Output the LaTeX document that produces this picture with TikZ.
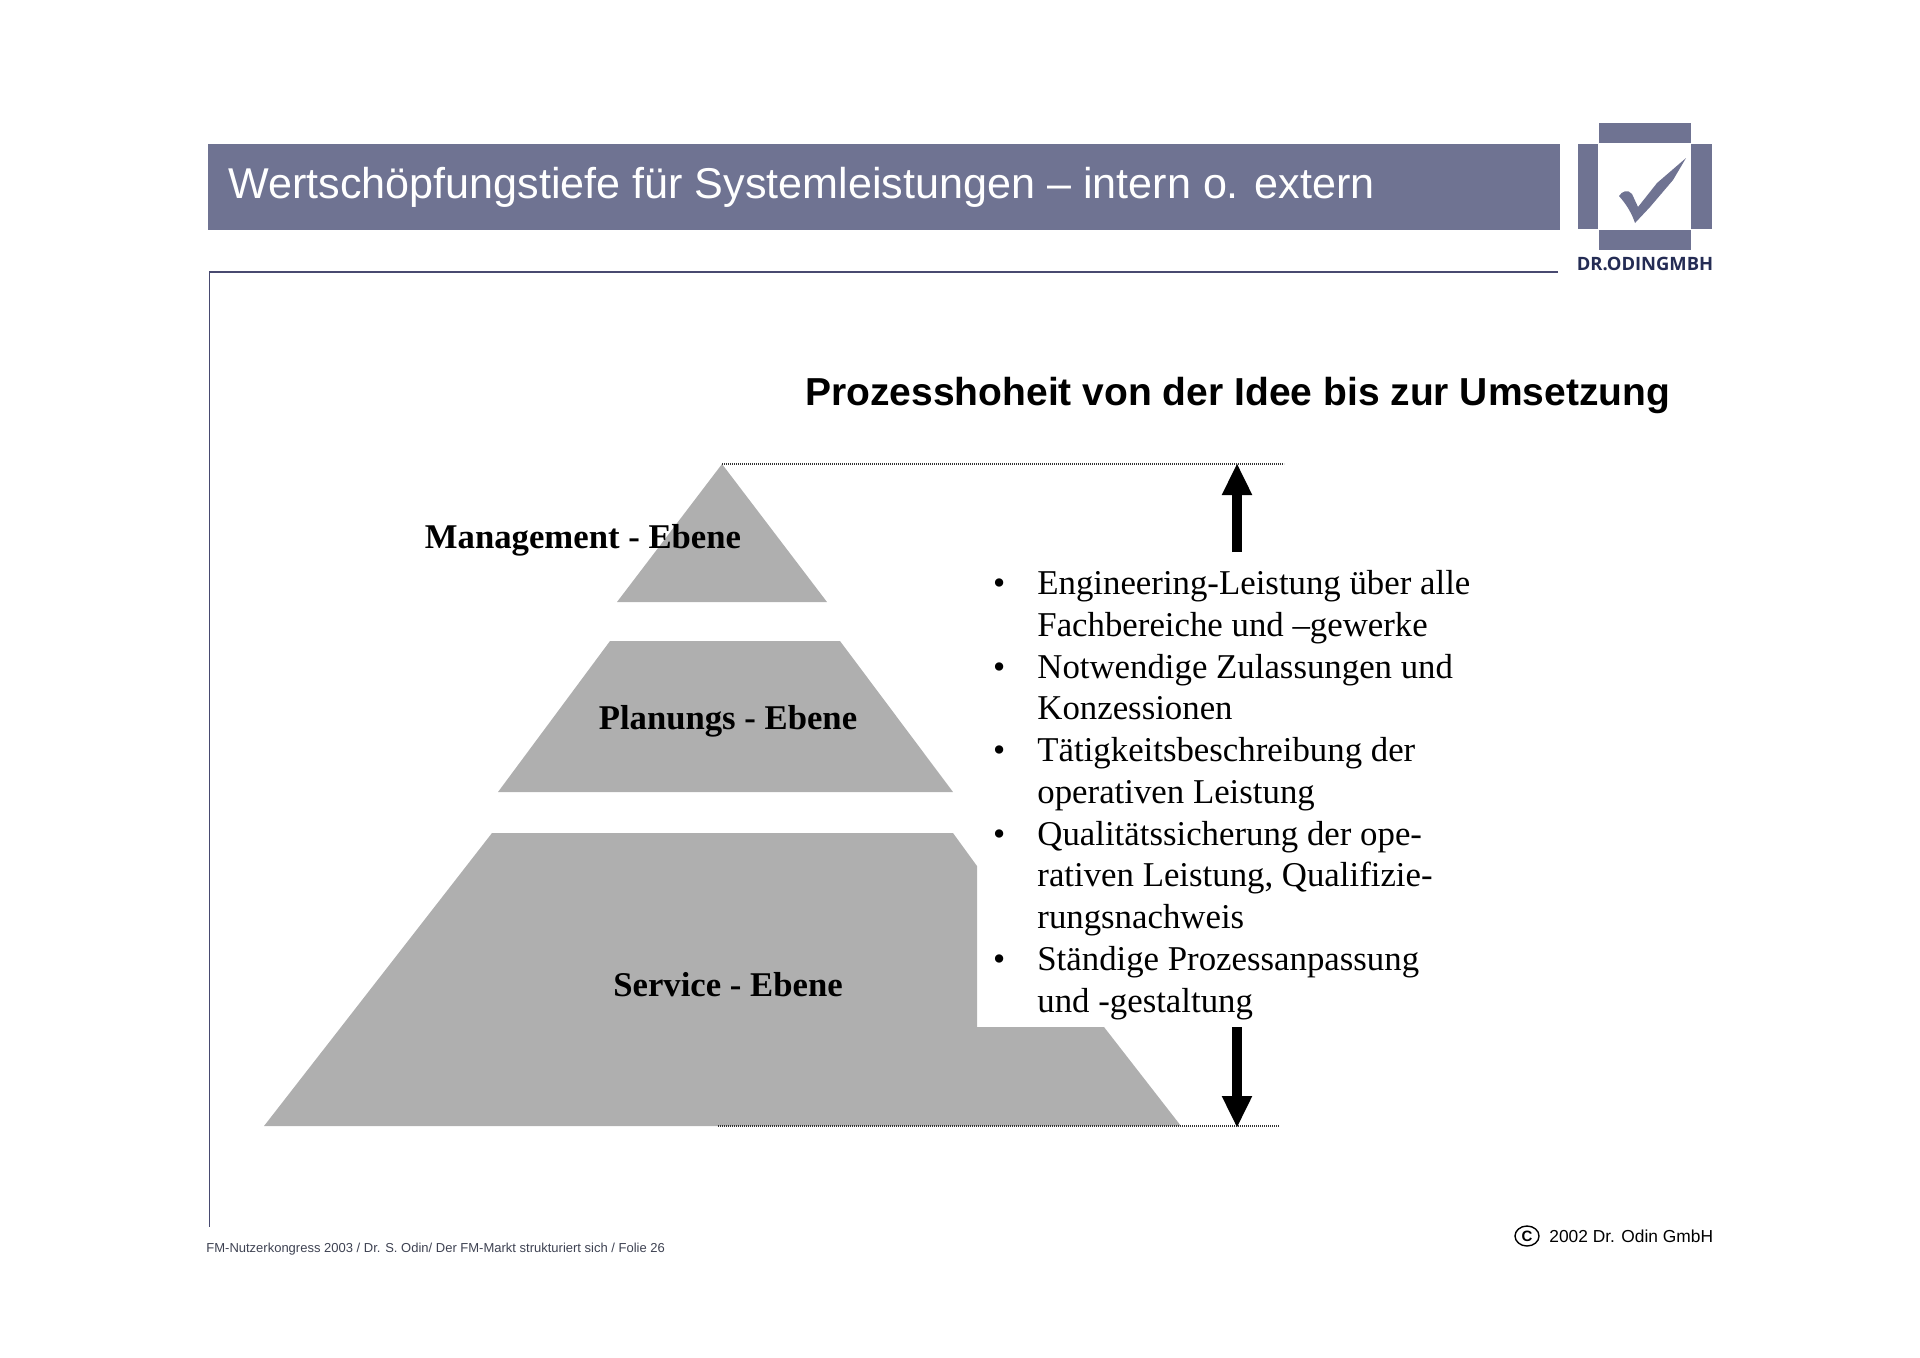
\documentclass[tikz,border=0pt]{standalone}
\usepackage{fontspec}
\setmainfont{Liberation Serif}
\setsansfont{Liberation Sans}
\newfontfamily\logofont{Open Sans}
\usetikzlibrary{positioning,arrows.meta,calc,shapes.geometric}
\definecolor{OdinBlue}{RGB}{111,115,146}
\definecolor{OdinLine}{RGB}{72,74,112}
\definecolor{OdinDark}{RGB}{36,44,84}
\definecolor{FootGrey}{RGB}{62,66,82}
\definecolor{LevelGrey}{RGB}{175,175,175}
\tikzset{
  band/.style={fill=OdinBlue,draw=none},
  level/.style={fill=LevelGrey,draw=none},
  rule/.style={draw=OdinLine,line width=0.6pt},
  hoehe/.style={draw=black!80,line width=0.6pt,dash pattern=on 0.6pt off 0.4pt},
  pfeil/.style={-{Triangle[length=16pt,width=14pt]},line width=4.6pt,draw=black},
  levellabel/.style={anchor=base,font=\fontsize{17.35}{20}\selectfont\bfseries,inner sep=0pt},
  foot/.style={anchor=base west,inner sep=0pt,font=\sffamily\fontsize{6.5}{8}\selectfont,text=FootGrey}
}
\begin{document}
\begin{tikzpicture}[x=0.5pt,y=-0.5pt]
  \useasboundingbox (0,0) rectangle (1920,1357);
  % header
  \fill[band] (208,144) rectangle (1560,230);
  \node[anchor=base west,inner sep=0pt,text=white,font=\sffamily\fontsize{21.56}{26}\selectfont] (titel) at (228,198)
    {Wertschöpfungstiefe für Systemleistungen – intern o. extern};
  \draw[rule] (1558,272) -- (209.5,272) -- (209.5,1227);
  % logo
  \fill[band] (1599,123) rectangle (1691,143);
  \fill[band] (1578,144) rectangle (1598,229);
  \fill[band] (1691,144) rectangle (1712,229);
  \fill[band] (1599,230) rectangle (1691,250);
  \fill[band] (1619,196) .. controls (1622,191) and (1628,189) .. (1632,194)
    -- (1638,207) -- (1657,183) -- (1686,158) -- (1673,180) -- (1650,207) -- (1635,223)
    .. controls (1632,214) and (1627,205) .. cycle;
  \node[anchor=base,inner sep=0pt,text=OdinDark,font=\logofont\bfseries\fontsize{9.2}{10}\selectfont] (logotext) at (1645,270) {DR.ODINGMBH};
  % pyramid
  \coordinate (spitze) at (722,464);
  \coordinate (fuss) at (718,1126);
  \coordinate (spitzeEnde) at (1284,464);
  \coordinate (fussEnde) at (1279,1126);
  \fill[level] (spitze) -- (827,602) -- (617,602) -- cycle;
  \fill[level] (610,641) -- (840,641) -- (953,792) -- (498,792) -- cycle;
  \fill[level] (492,833) -- (953,833) -- (977,866) -- (977,1027) -- (1104,1027) -- (1181,1126) -- (264,1126) -- cycle;
  \draw[hoehe] (spitze) -- (spitzeEnde);
  \draw[hoehe] (fuss) -- (fussEnde);
  \node[levellabel] (management) at (583,548) {Management - Ebene};
  \node[levellabel] (planung) at (728,729) {Planungs - Ebene};
  \node[levellabel] (service) at (728,996) {Service - Ebene};
  % right column
  \node[anchor=base west,inner sep=0pt,font=\sffamily\bfseries\fontsize{19.5}{24}\selectfont] (prozess) at (805,405)
    {Prozesshoheit von der Idee bis zur Umsetzung};
  \coordinate (obenStart) at (1237,552);
  \coordinate (obenZiel) at (1237,463);
  \coordinate (untenStart) at (1237,1027);
  \coordinate (untenZiel) at (1237,1128);
  \draw[pfeil] (obenStart) -- (obenZiel);
  \draw[pfeil] (untenStart) -- (untenZiel);
  \node[anchor=north west,inner sep=0pt,align=left,font=\fontsize{17.4}{20.88}\selectfont] (liste) at (1037,570) {%
    \llap{\textbullet\hspace{16pt}}Engineering-Leistung über alle\\
    Fachbereiche und –gewerke\\
    \llap{\textbullet\hspace{16pt}}Notwendige Zulassungen und\\
    Konzessionen\\
    \llap{\textbullet\hspace{16pt}}Tätigkeitsbeschreibung der\\
    operativen Leistung\\
    \llap{\textbullet\hspace{16pt}}Qualitätssicherung der ope-\\
    rativen Leistung, Qualifizie-\\
    rungsnachweis\\
    \llap{\textbullet\hspace{16pt}}Ständige Prozessanpassung\\
    und -gestaltung};
  % footer
  \node[foot] (folie) at (206,1252) {FM-Nutzerkongress 2003 / Dr. S. Odin/ Der FM-Markt strukturiert sich / Folie 26};
  \node[anchor=base west,inner sep=0pt,font=\sffamily\fontsize{8.68}{11}\selectfont] (copy) at (1549,1242) {2002 Dr. Odin GmbH};
  \node[draw=black,ellipse,line width=0.7pt,minimum width=12pt,minimum height=10pt,inner sep=0pt,font=\sffamily\bfseries\fontsize{7.5}{8}\selectfont] (kreis) at (1527,1236) {C};
\end{tikzpicture}
\end{document}
